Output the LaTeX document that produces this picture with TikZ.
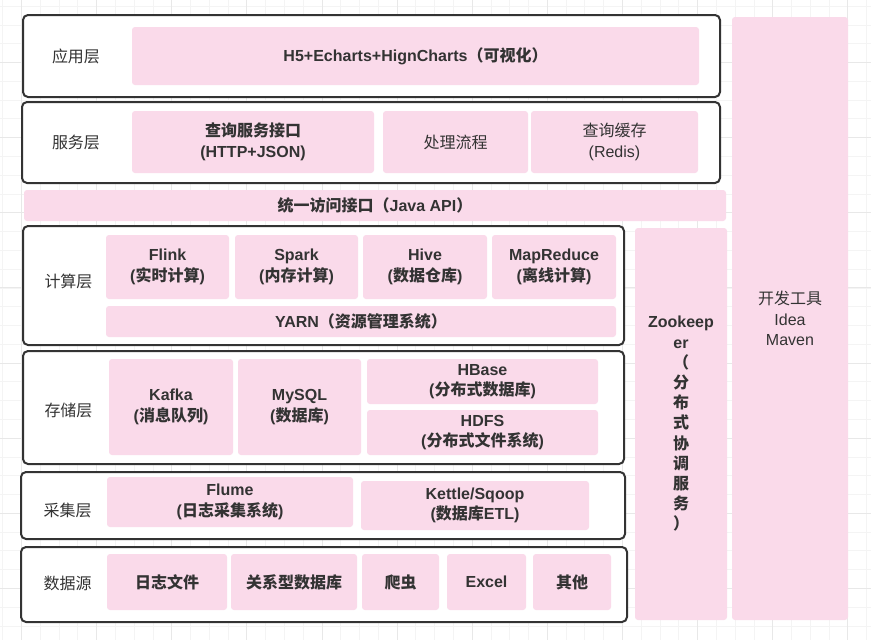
\documentclass[tikz,border=0pt]{standalone}
\usepackage{fontspec}
\setmainfont{Liberation Sans}
\newfontfamily\cjk{Noto Sans CJK SC}
\newcommand{\zh}[1]{{\cjk #1}}
\definecolor{boxpink}{RGB}{250,218,234}
\definecolor{inkgray}{RGB}{51,51,51}
\definecolor{gridminor}{RGB}{244,244,244}
\definecolor{gridmajor}{RGB}{232,232,232}
\tikzset{
    layer/.style={draw=inkgray, fill=white, line width=2pt, rounded corners=5pt},
    pinkbox/.style={fill=boxpink, rounded corners=3pt, inner sep=0pt, align=center,
        text=inkgray, font=\fontsize{16}{20.5}\selectfont\bfseries},
    plainbox/.style={pinkbox, font=\fontsize{16}{20.5}\selectfont},
    layername/.style={text=inkgray, font=\fontsize{16}{20}\selectfont\cjk},
}

\begin{document}
\begin{tikzpicture}[x=1pt, y=-1pt]
        \useasboundingbox [fill=white] (0,0) rectangle (871,640);
        % background grid
        \foreach \gx in {0,...,46} {
            \draw [gridminor, line width=1pt] ({2.8+18.78*\gx},0) -- ++(0,640);
            };
        \foreach \gy in {0,...,34} {
            \draw [gridminor, line width=1pt] (0,{6.3+18.78*\gy}) -- ++(871,0);
            };
        \foreach \gx in {0,...,11} {
            \draw [gridmajor, line width=1pt] ({21.6+75.1*\gx},0) -- ++(0,640);
            };
        \foreach \gy in {0,...,8} {
            \draw [gridmajor, line width=1pt] (0,{-12.5+75.1*\gy}) -- ++(871,0);
            };

        % layer frames
        \draw [layer] (23,15) rectangle (720,97);
        \draw [layer] (22,102) rectangle (720,183);
        \draw [layer] (23,226) rectangle (624,345);
        \draw [layer] (23,351) rectangle (624,464);
        \draw [layer] (21,472) rectangle (625,539);
        \draw [layer] (21,547) rectangle (627,622);

        \node [layername] (appname) at (76,56) {应用层};
        \node [layername] (servname) at (76,142) {服务层};
        \node [layername] (compname) at (68.5,281) {计算层};
        \node [layername] (storname) at (68.5,410) {存储层};
        \node [layername] (collname) at (67.5,510.5) {采集层};
        \node [layername] (srcname) at (67.5,583) {数据源};

        % application and service
        \node [pinkbox, minimum width=567, minimum height=58] (charts) at (415.5,56)
            {H5+Echarts+HignCharts\zh{（可视化）}};
        \node [pinkbox, minimum width=242, minimum height=62] (query) at (253,142)
            {\zh{查询服务接口}\\(HTTP+JSON)};
        \node [plainbox, minimum width=145, minimum height=62] (flow) at (455.5,142)
            {\zh{处理流程}};
        \node [plainbox, minimum width=167, minimum height=62] (cache) at (614.5,142)
            {\zh{查询缓存}\\(Redis)};
        \node [pinkbox, minimum width=702, minimum height=31] (javaapi) at (375,205.5)
            {\zh{统一访问接口（}Java API\zh{）}};

        % computing
        \node [pinkbox, minimum width=123, minimum height=64] (flink) at (167.5,267)
            {Flink\\(\zh{实时计算})};
        \node [pinkbox, minimum width=123, minimum height=64] (spark) at (296.5,267)
            {Spark\\(\zh{内存计算})};
        \node [pinkbox, minimum width=124, minimum height=64] (hive) at (425,267)
            {Hive\\(\zh{数据仓库})};
        \node [pinkbox, minimum width=124, minimum height=64] (mapred) at (554,267)
            {MapReduce\\(\zh{离线计算})};
        \node [pinkbox, minimum width=510, minimum height=31] (yarn) at (361,321.5)
            {YARN\zh{（资源管理系统）}};

        % storage
        \node [pinkbox, minimum width=124, minimum height=96] (kafka) at (171,407)
            {Kafka\\(\zh{消息队列})};
        \node [pinkbox, minimum width=123, minimum height=96] (mysql) at (299.5,407)
            {MySQL\\(\zh{数据库})};
        \node [pinkbox, minimum width=231, minimum height=45] (hbase) at (482.5,381.5)
            {HBase\\(\zh{分布式数据库})};
        \node [pinkbox, minimum width=231, minimum height=45] (hdfs) at (482.5,432.5)
            {HDFS\\(\zh{分布式文件系统})};

        % collection
        \node [pinkbox, minimum width=246, minimum height=50] (flume) at (230,502)
            {Flume\\(\zh{日志采集系统})};
        \node [pinkbox, minimum width=228, minimum height=49] (kettle) at (475,505.5)
            {Kettle/Sqoop\\(\zh{数据库}ETL)};

        % data sources
        \node [pinkbox, minimum width=120, minimum height=56] (logfile) at (167,582) {\zh{日志文件}};
        \node [pinkbox, minimum width=126, minimum height=56] (rdb) at (294,582) {\zh{关系型数据库}};
        \node [pinkbox, minimum width=77, minimum height=56] (crawler) at (400.5,582) {\zh{爬虫}};
        \node [pinkbox, minimum width=79, minimum height=56] (excel) at (486.5,582) {Excel};
        \node [pinkbox, minimum width=78, minimum height=56] (other) at (572,582) {\zh{其他}};

        % side columns
        \node [pinkbox, minimum width=92, minimum height=392, font=\fontsize{16}{20.2}\selectfont\bfseries]
            (zookeeper) at (681,424)
            {Zookeep\\er\\ \zh{（}\\ \zh{分}\\ \zh{布}\\ \zh{式}\\ \zh{协}\\ \zh{调}\\ \zh{服}\\ \zh{务}\\ \zh{）}};
        \node [plainbox, minimum width=116, minimum height=603] (devtools) at (790,318.5)
            {\zh{开发工具}\\Idea\\Maven};
    \end{tikzpicture}
\end{document}
